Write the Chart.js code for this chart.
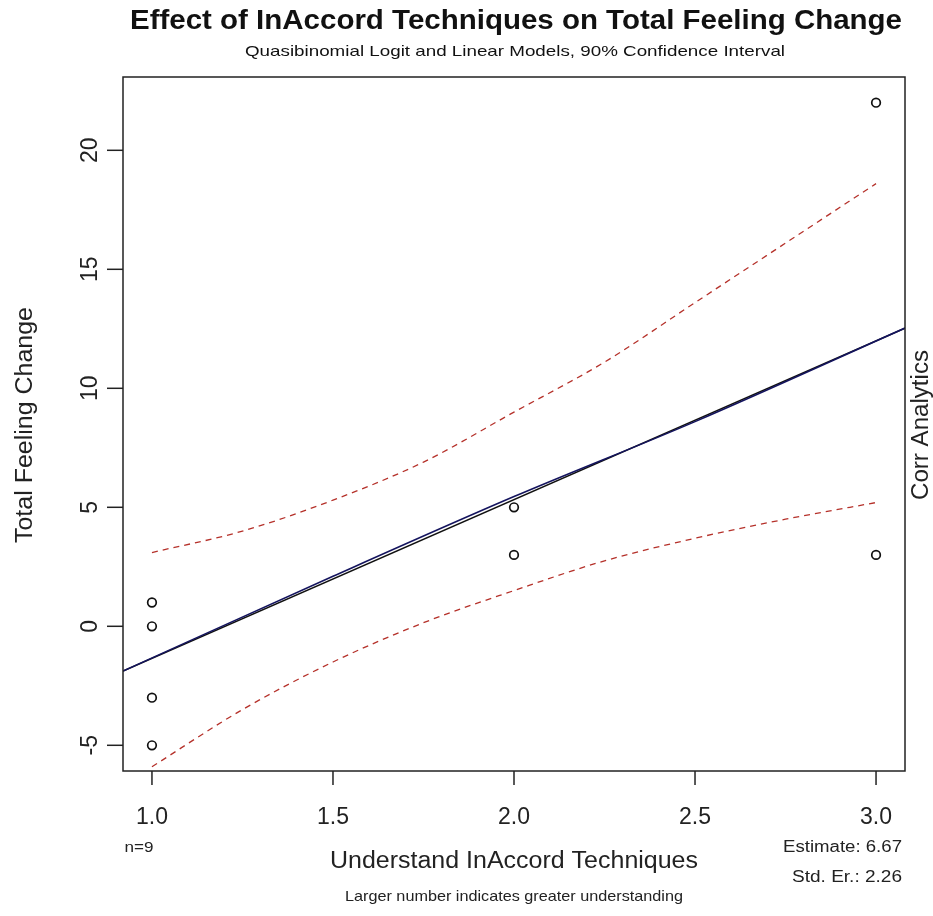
<!DOCTYPE html>
<html>
<head>
<meta charset="utf-8">
<script src="https://cdn.jsdelivr.net/npm/chart.js@4.4.1/dist/chart.umd.min.js"></script>
<style>
html,body{margin:0;padding:0;background:#fff;}
canvas{display:block;}
</style>
</head>
<body>
<canvas id="chart" width="933" height="916"></canvas>
<script>
// observed points
const obsX = [1, 1, 1, 1, 2, 2, 3, 3];
const obsY = [1, 0, -3, -5, 5, 3, 22, 3];
// 90% confidence band
const ciX = [1, 1.25, 1.5, 1.75, 2, 2.25, 2.5, 2.75, 3];
const ciUpper = [3.1, 4.0, 5.3, 6.9, 9.0, 11.1, 13.6, 16.1, 18.6];
const ciLower = [-5.9, -3.5, -1.5, 0.15, 1.5, 2.75, 3.7, 4.5, 5.2];
// fitted lines
const fitX = [0.92, 3.08];
const fitLinear = [-1.88, 12.53];
const logitX = [0.92, 1.5, 2, 2.5, 3.08];
const fitLogit = [-1.88, 2.1, 5.45, 8.6, 12.53];
// axes
const xTicks = [1.0, 1.5, 2.0, 2.5, 3.0];
const yTicks = [-5, 0, 5, 10, 15, 20];

const FONT = '"Liberation Sans", Arial, sans-serif';
const pts = (xs, ys) => xs.map((x, i) => ({x: x, y: ys[i]}));

// draw text squeezed/stretched to a given width (R's windows fonts are wider)
function txt(ctx, s, x, y, font, w, align, rot) {
  ctx.save();
  ctx.font = font;
  ctx.translate(x, y);
  if (rot) ctx.rotate(rot);
  const m = ctx.measureText(s).width;
  ctx.scale(w ? w / m : 1, 1);
  ctx.textAlign = align || 'center';
  ctx.textBaseline = 'middle';
  ctx.fillText(s, 0, 0);
  ctx.restore();
}

const rDecor = {
  id: 'rDecor',
  afterDraw(chart) {
    const ctx = chart.ctx, a = chart.chartArea;
    const xs = chart.scales.x, ys = chart.scales.y;
    ctx.save();
    ctx.strokeStyle = '#222';
    ctx.fillStyle = '#222';
    ctx.lineWidth = 1.5;
    ctx.strokeRect(a.left, a.top, a.right - a.left, a.bottom - a.top);

    const tickFont = '23px ' + FONT;
    xTicks.forEach(v => {
      const px = xs.getPixelForValue(v);
      ctx.beginPath(); ctx.moveTo(px, a.bottom); ctx.lineTo(px, a.bottom + 14); ctx.stroke();
      txt(ctx, v.toFixed(1), px, 818, tickFont, 32);
    });
    yTicks.forEach(v => {
      const py = ys.getPixelForValue(v);
      ctx.beginPath(); ctx.moveTo(a.left, py); ctx.lineTo(a.left - 16, py); ctx.stroke();
      txt(ctx, String(v), 91, py, tickFont, 0, 'center', -Math.PI / 2);
    });

    ctx.fillStyle = '#111';
    txt(ctx, 'Effect of InAccord Techniques on Total Feeling Change', 516, 21, 'bold 28px ' + FONT, 772);
    txt(ctx, 'Quasibinomial Logit and Linear Models, 90% Confidence Interval', 515, 52, '15px ' + FONT, 540);

    ctx.fillStyle = '#222';
    txt(ctx, 'Understand InAccord Techniques', 514, 862, '23px ' + FONT, 368);
    txt(ctx, 'Larger number indicates greater understanding', 514, 897, '15px ' + FONT, 338);
    txt(ctx, 'n=9', 139, 848, '15px ' + FONT, 29);
    txt(ctx, 'Estimate: 6.67', 902, 848, '16px ' + FONT, 119, 'right');
    txt(ctx, 'Std. Er.: 2.26', 902, 878, '16px ' + FONT, 110, 'right');

    txt(ctx, 'Total Feeling Change', 26, 425, '23px ' + FONT, 236, 'center', -Math.PI / 2);
    txt(ctx, 'Corr Analytics', 922, 425, '23px ' + FONT, 150, 'center', -Math.PI / 2);
    ctx.restore();
  }
};

new Chart(document.getElementById('chart'), {
  type: 'scatter',
  data: {
    datasets: [
      {data: pts(ciX, ciUpper), showLine: true, borderColor: '#b5312a', borderWidth: 1.3, borderDash: [6, 5], cubicInterpolationMode: 'monotone', pointRadius: 0, fill: false},
      {data: pts(ciX, ciLower), showLine: true, borderColor: '#b5312a', borderWidth: 1.3, borderDash: [6, 5], cubicInterpolationMode: 'monotone', pointRadius: 0, fill: false},
      {data: pts(logitX, fitLogit), showLine: true, borderColor: '#14145e', borderWidth: 1.6, cubicInterpolationMode: 'monotone', pointRadius: 0, fill: false},
      {data: pts(fitX, fitLinear), showLine: true, borderColor: '#111', borderWidth: 1.5, pointRadius: 0, fill: false},
      {data: pts(obsX, obsY), pointRadius: 4.3, pointBorderWidth: 1.7, pointBorderColor: '#111', pointBackgroundColor: 'rgba(0,0,0,0)'}
    ]
  },
  options: {
    responsive: false,
    devicePixelRatio: 1,
    animation: false,
    layout: {padding: {left: 123, right: 28, top: 77, bottom: 145}},
    plugins: {legend: {display: false}, tooltip: {enabled: false}},
    scales: {
      x: {type: 'linear', min: 0.92, max: 3.08, display: false},
      y: {type: 'linear', min: -6.08, max: 23.08, display: false}
    }
  },
  plugins: [rDecor]
});
</script>
</body>
</html>
